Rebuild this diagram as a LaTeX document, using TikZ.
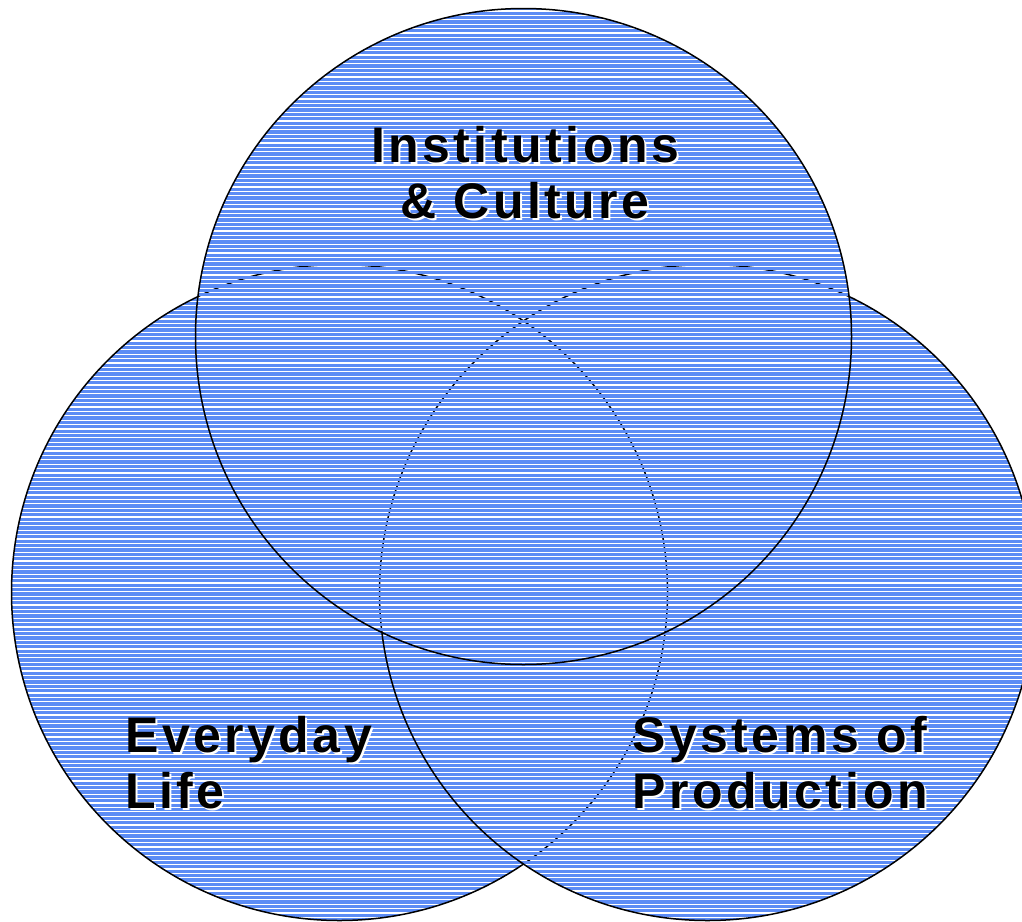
\documentclass[tikz,border=0pt]{standalone}
\usepackage{fontspec}
\newfontfamily\lblfont[LetterSpace=7]{Liberation Sans}
\definecolor{hatchblue}{RGB}{92,140,245}
\newcommand\shtext[1]{\makebox[0pt][l]{\hspace{2pt}\raisebox{-2pt}{\color{white}#1}}#1}
\tikzset{
  hatch/.style={draw=hatchblue, line width=3.3pt},
  ring/.style={draw=black, line width=1.5pt},
  lbl/.style={inner sep=0pt, font=\lblfont\bfseries\fontsize{50}{56}\selectfont, text=black}
}
\begin{document}
\begin{tikzpicture}[x=1pt,y=-1pt]
\useasboundingbox (0,0) rectangle (1022,921);
\clip (0,0) rectangle (1022,921);
% circle centres and radius
\coordinate (L) at (339.5,592.5);
\coordinate (R) at (707.5,592.5);
\coordinate (T) at (523.5,336.5);
\def\rad{328}
% left circle
\begin{scope}
  \clip (L) circle (\rad);
  \draw[hatch] \foreach \y in {0,4.4,...,925} {(0,\y) -- (1022,\y)};
\end{scope}
\draw[ring] (L) circle (\rad);
% right circle
\begin{scope}
  \clip (R) circle (\rad);
  \draw[hatch] \foreach \y in {0,4.4,...,925} {(0,\y) -- (1022,\y)};
\end{scope}
\draw[ring] (R) circle (\rad);
% top circle
\begin{scope}
  \clip (T) circle (\rad);
  \draw[hatch] \foreach \y in {0,4.4,...,925} {(0,\y) -- (1022,\y)};
\end{scope}
\draw[ring] (T) circle (\rad);
% labels
\node[lbl, anchor=base] (inst1) at (525,162) {\shtext{Institutions}};
\node[lbl, anchor=base] (inst2) at (525,218) {\shtext{\& Culture}};
\node[lbl, anchor=base west] (every1) at (125,752) {\shtext{Everyday}};
\node[lbl, anchor=base west] (every2) at (125,808) {\shtext{Life}};
\node[lbl, anchor=base west] (sys1) at (632,752) {\shtext{Systems of}};
\node[lbl, anchor=base west] (sys2) at (632,808) {\shtext{Production}};
\end{tikzpicture}
\end{document}
